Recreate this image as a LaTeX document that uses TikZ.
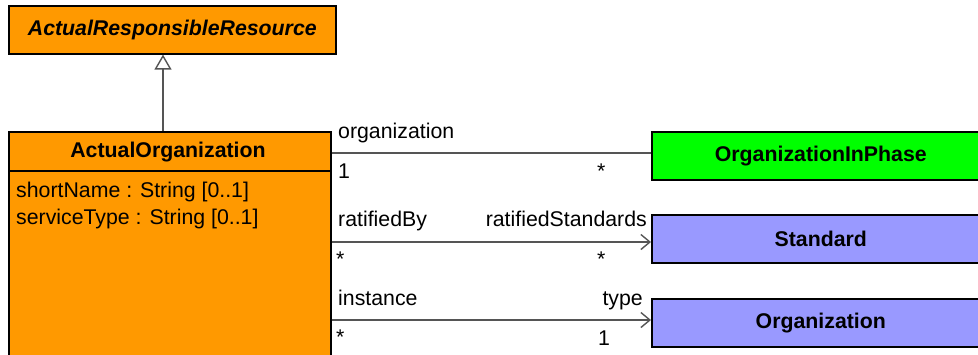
\documentclass[tikz,border=0pt]{standalone}
\usepackage{fontspec}
\setmainfont{Liberation Sans}
\usetikzlibrary{arrows.meta}
\definecolor{umlorange}{HTML}{FF9900}
\definecolor{umlgreen}{HTML}{00FF00}
\definecolor{umlblue}{HTML}{9999FF}
\definecolor{linegray}{HTML}{555555}
\begin{document}
\begin{tikzpicture}[x=1pt,y=-1pt,
  cls/.style={draw=black, line width=1.6pt, rectangle, anchor=north west, inner sep=0pt,
    font=\fontsize{21.3}{25}\selectfont\bfseries},
  lbl/.style={inner sep=0pt, font=\fontsize{21.3}{25}\selectfont},
  conn/.style={draw=linegray, line width=1.6pt},
  nav/.style={conn, -{Straight Barb[length=9pt,width=15pt,line width=1.4pt]}},
  gen/.style={conn, -{Triangle[open,length=15pt,width=17pt,line width=1.4pt,fill=white]}}
]
\useasboundingbox (0,0) rectangle (978,354);
% classes
\node[cls, fill=umlorange, minimum width=327pt, minimum height=48pt] (arr) at (8,5) {};
\node[font=\fontsize{21.3}{25}\selectfont\bfseries\itshape] at (arr.center) {ActualResponsibleResource};
\node[cls, fill=umlorange, minimum width=322pt, minimum height=230pt] (ao) at (8,131) {};
\node[font=\fontsize{21.3}{25}\selectfont\bfseries, anchor=base] at (168,157) {ActualOrganization};
\draw[line width=1.6pt] (ao.west |- 0,171) -- (ao.east |- 0,171);
\node[lbl, anchor=base west] at (16,197) {shortName : String [0..1]};
\node[lbl, anchor=base west] at (16,224) {serviceType : String [0..1]};

\node[cls, fill=umlgreen, minimum width=338pt, minimum height=48pt] (oip) at (651,131) {};
\node[font=\fontsize{21.3}{25}\selectfont\bfseries] at (oip.center) {OrganizationInPhase};
\node[cls, fill=umlblue, minimum width=338pt, minimum height=48pt] (std) at (651,214) {};
\node[font=\fontsize{21.3}{25}\selectfont\bfseries] at (std.center) {Standard};
\node[cls, fill=umlblue, minimum width=338pt, minimum height=48pt] (org) at (651,298) {};
\node[font=\fontsize{21.3}{25}\selectfont\bfseries] at (org.center) {Organization};

% generalization
\draw[gen] (ao.north -| 163,0) -- (arr.south -| 163,0);

% associations
\draw[conn] (ao.east |- 0,153) -- (oip.west |- 0,153);
\draw[nav] (ao.east |- 0,242) -- (std.west |- 0,242);
\draw[nav] (ao.east |- 0,320) -- (org.west |- 0,320);

% labels
\node[lbl, anchor=base west] at (338,138) {organization};
\node[lbl, anchor=base west] at (338,178) {1};
\node[lbl, anchor=base west] at (597,178) {*};
\node[lbl, anchor=base west] at (338,226) {ratifiedBy};
\node[lbl, anchor=base east] at (647,226) {ratifiedStandards};
\node[lbl, anchor=base west] at (336,266) {*};
\node[lbl, anchor=base west] at (597,266) {*};
\node[lbl, anchor=base west] at (338,305) {instance};
\node[lbl, anchor=base east] at (643,305) {type};
\node[lbl, anchor=base west] at (336,344) {*};
\node[lbl, anchor=base west] at (598,345) {1};
\end{tikzpicture}
\end{document}
